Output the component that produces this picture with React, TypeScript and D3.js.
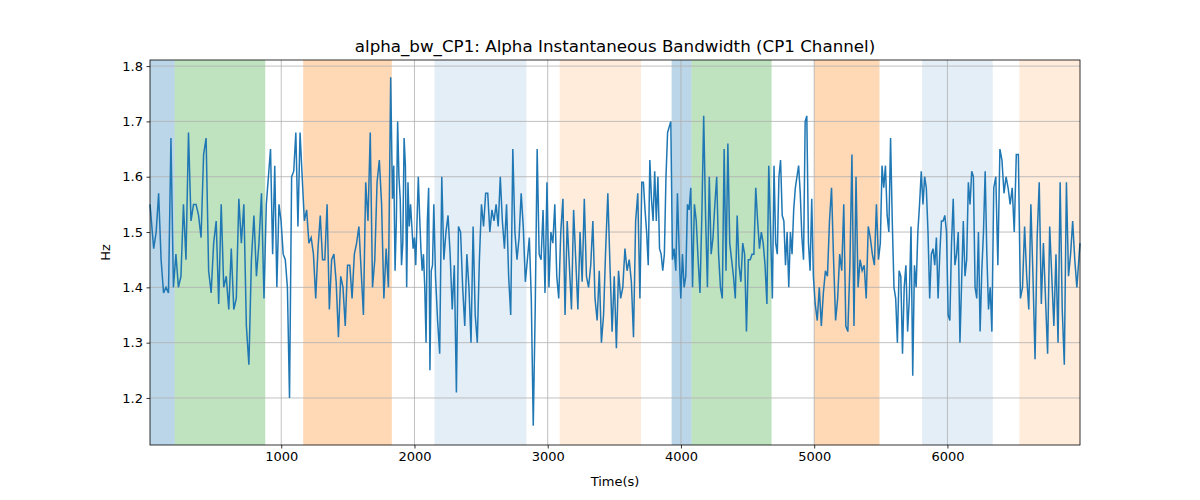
import React, { useEffect, useRef } from 'react';
import * as d3 from 'd3';

// segment boundaries (time, s) along which samples are laid out
const segmentBounds = [15, 200, 880, 1165, 1830, 2150, 2840, 3090, 3700, 3930, 4080, 4680, 5000, 5490, 5810, 6340, 6540, 6995];

const segmentValues: number[][] = [
  [1.55, 1.47, 1.50, 1.57, 1.45, 1.39, 1.40, 1.39, 1.67, 1.40],
  [1.46, 1.40, 1.42, 1.55, 1.45, 1.68, 1.52, 1.55, 1.55, 1.53, 1.49, 1.64, 1.67, 1.43, 1.39, 1.48, 1.52, 1.37, 1.55, 1.40, 1.42, 1.36, 1.47, 1.36, 1.38, 1.56, 1.48, 1.55, 1.33, 1.26, 1.45, 1.53, 1.42, 1.48, 1.57, 1.38],
  [1.55, 1.60, 1.65, 1.46, 1.62, 1.40, 1.55, 1.52, 1.46, 1.45, 1.40, 1.20, 1.60, 1.61, 1.68, 1.51, 1.68, 1.60],
  [1.52, 1.54, 1.48, 1.49, 1.46, 1.38, 1.47, 1.53, 1.45, 1.45, 1.55, 1.36, 1.45, 1.46, 1.41, 1.31, 1.42, 1.40, 1.33, 1.44, 1.44, 1.38, 1.46, 1.48, 1.51, 1.43, 1.35, 1.59, 1.52, 1.68, 1.40, 1.45, 1.59, 1.63, 1.55, 1.38, 1.47, 1.40, 1.78],
  [1.56, 1.62, 1.43, 1.52, 1.70, 1.60, 1.56, 1.44, 1.48, 1.67, 1.62, 1.40, 1.59, 1.51, 1.55, 1.51, 1.47, 1.49, 1.44, 1.52, 1.60, 1.53, 1.47, 1.43, 1.46, 1.40, 1.30, 1.52, 1.58, 1.25, 1.43, 1.44, 1.55],
  [1.42, 1.34, 1.28, 1.60, 1.45, 1.50, 1.53, 1.46, 1.36, 1.44, 1.21, 1.51, 1.50, 1.40, 1.33, 1.46, 1.40, 1.30, 1.51, 1.35, 1.30, 1.45, 1.55, 1.51, 1.57, 1.57, 1.50, 1.54, 1.52, 1.55, 1.51, 1.60, 1.52, 1.47, 1.55, 1.42, 1.35, 1.65, 1.50, 1.45, 1.49, 1.57, 1.51, 1.41],
  [1.45, 1.49, 1.38, 1.15, 1.36, 1.65, 1.46, 1.45, 1.54, 1.39, 1.59, 1.40, 1.50, 1.48, 1.55, 1.42, 1.38],
  [1.50, 1.56, 1.35, 1.52, 1.44, 1.36, 1.54, 1.45, 1.36, 1.50, 1.41, 1.56, 1.42, 1.40, 1.44, 1.52, 1.38, 1.34, 1.43, 1.30, 1.35, 1.47, 1.57, 1.44, 1.32, 1.42, 1.29, 1.43, 1.38, 1.40, 1.47, 1.43, 1.45, 1.41, 1.31, 1.52, 1.57, 1.38],
  [1.59, 1.59, 1.54, 1.50, 1.44, 1.63, 1.56, 1.52, 1.61, 1.52, 1.60, 1.47, 1.46, 1.43, 1.46, 1.60, 1.68, 1.69, 1.70],
  [1.45, 1.47, 1.43, 1.57, 1.47, 1.38, 1.46, 1.40, 1.42, 1.55, 1.54, 1.58],
  [1.40, 1.55, 1.52, 1.45, 1.39, 1.53, 1.71, 1.53, 1.40, 1.60, 1.46, 1.49, 1.55, 1.60, 1.46, 1.40, 1.38, 1.65, 1.43, 1.66, 1.48, 1.45, 1.42, 1.38, 1.53, 1.44, 1.41, 1.48, 1.46, 1.32, 1.45, 1.45, 1.46, 1.46, 1.58, 1.52, 1.47, 1.50, 1.48, 1.44, 1.37, 1.62, 1.50],
  [1.38, 1.62, 1.48, 1.46, 1.60, 1.63, 1.53, 1.52, 1.44, 1.50, 1.40, 1.50, 1.46, 1.54, 1.58, 1.60, 1.62, 1.57, 1.49, 1.45, 1.70, 1.71, 1.48, 1.43, 1.56, 1.42],
  [1.37, 1.34, 1.40, 1.33, 1.39, 1.43, 1.42, 1.52, 1.58, 1.45, 1.34, 1.38, 1.46, 1.43, 1.55, 1.33, 1.32, 1.44, 1.64, 1.33, 1.60, 1.40, 1.45, 1.43, 1.44, 1.38, 1.51, 1.49, 1.46, 1.44, 1.55, 1.45],
  [1.48, 1.62, 1.58, 1.62, 1.53, 1.50, 1.67, 1.52, 1.40, 1.38, 1.30, 1.43, 1.42, 1.28, 1.40, 1.44, 1.32, 1.38, 1.51, 1.24, 1.44, 1.40, 1.50, 1.55, 1.61],
  [1.55, 1.60, 1.58, 1.50, 1.38, 1.46, 1.47, 1.44, 1.49, 1.38, 1.46, 1.52, 1.52, 1.53, 1.50, 1.35, 1.34, 1.48, 1.56, 1.44, 1.46, 1.50, 1.30, 1.41, 1.52, 1.42, 1.45, 1.59, 1.55, 1.61, 1.60, 1.40, 1.38, 1.50, 1.32, 1.43, 1.50, 1.61, 1.46, 1.36, 1.40, 1.32],
  [1.58, 1.60, 1.44, 1.65, 1.63, 1.57, 1.60, 1.58, 1.55, 1.58, 1.50, 1.64, 1.64],
  [1.38, 1.40, 1.51, 1.42, 1.36, 1.55, 1.42, 1.27, 1.49, 1.59, 1.37, 1.48, 1.38, 1.28, 1.51, 1.42, 1.33, 1.46, 1.30, 1.59, 1.36, 1.26, 1.59, 1.42, 1.46, 1.52, 1.45, 1.40, 1.48],
];

// shaded spans: [start, end, color, opacity]
const spans: [number, number, string, number][] = [
  [15, 200, '#1f77b4', 0.3],
  [200, 880, '#2ca02c', 0.3],
  [1165, 1830, '#ff7f0e', 0.3],
  [2150, 2840, '#1f77b4', 0.12],
  [3090, 3700, '#ff7f0e', 0.15],
  [3930, 4080, '#1f77b4', 0.3],
  [4080, 4680, '#2ca02c', 0.3],
  [5000, 5490, '#ff7f0e', 0.3],
  [5810, 6340, '#1f77b4', 0.12],
  [6540, 6995, '#ff7f0e', 0.15],
];

const xTicks = [1000, 2000, 3000, 4000, 5000, 6000];
const yTicks = [1.2, 1.3, 1.4, 1.5, 1.6, 1.7, 1.8];

export default function App() {
  const ref = useRef<SVGSVGElement>(null);

  useEffect(() => {
    if (!ref.current) return;
    const svg = d3.select(ref.current);
    svg.selectAll('*').remove();
    const width = 1200, height = 500;
    const m = { top: 60, right: 120, bottom: 55, left: 150 };

    const data: { t: number; v: number }[] = [];
    segmentValues.forEach((vals, i) => {
      const a = segmentBounds[i], b = segmentBounds[i + 1];
      vals.forEach((v, j) => {
        data.push({ t: a + ((b - a) * (j + 0.5)) / vals.length, v });
      });
    });
    data[0].t = 15;
    data[data.length - 1].t = 6995;

    const x = d3.scaleLinear().domain([15, 6995]).range([m.left, width - m.right]);
    const y = d3.scaleLinear().domain([1.115, 1.811]).range([height - m.bottom, m.top]);
    const font = 'DejaVu Sans, sans-serif';

    svg.selectAll('rect.span').data(spans).enter().append('rect')
      .attr('x', d => x(d[0])).attr('width', d => x(d[1]) - x(d[0]))
      .attr('y', m.top).attr('height', height - m.bottom - m.top)
      .attr('fill', d => d[2]).attr('fill-opacity', d => d[3]);

    const grid = svg.append('g');
    xTicks.forEach(t => grid.append('line').attr('x1', x(t)).attr('x2', x(t))
      .attr('y1', m.top).attr('y2', height - m.bottom).attr('stroke', '#b0b0b0').attr('stroke-width', 0.8));
    yTicks.forEach(t => grid.append('line').attr('x1', m.left).attr('x2', width - m.right)
      .attr('y1', y(t)).attr('y2', y(t)).attr('stroke', '#b0b0b0').attr('stroke-width', 0.8));

    svg.append('path').datum(data)
      .attr('fill', 'none').attr('stroke', '#1f77b4').attr('stroke-width', 1.5)
      .attr('d', d3.line<{ t: number; v: number }>().x(d => x(d.t)).y(d => y(d.v)));

    svg.append('rect').attr('x', m.left).attr('y', m.top)
      .attr('width', width - m.right - m.left).attr('height', height - m.bottom - m.top)
      .attr('fill', 'none').attr('stroke', '#000').attr('stroke-width', 0.8);

    const xa = svg.append('g').attr('transform', `translate(0,${height - m.bottom})`)
      .call(d3.axisBottom(x).tickValues(xTicks).tickFormat(d3.format('d')).tickSize(3.5).tickPadding(3.5));
    xa.select('.domain').remove();
    const ya = svg.append('g').attr('transform', `translate(${m.left},0)`)
      .call(d3.axisLeft(y).tickValues(yTicks).tickFormat(d3.format('.1f')).tickSize(3.5).tickPadding(3.5));
    ya.select('.domain').remove();
    svg.selectAll('.tick text').attr('font-family', font).attr('font-size', 13).attr('fill', '#000');
    svg.selectAll('.tick line').attr('stroke', '#000').attr('stroke-width', 0.8);

    svg.append('text').attr('x', (m.left + width - m.right) / 2).attr('y', 52)
      .attr('text-anchor', 'middle').attr('font-family', font).attr('font-size', 16.7)
      .text('alpha_bw_CP1: Alpha Instantaneous Bandwidth (CP1 Channel)');
    svg.append('text').attr('x', (m.left + width - m.right) / 2).attr('y', 486)
      .attr('text-anchor', 'middle').attr('font-family', font).attr('font-size', 13).text('Time(s)');
    svg.append('text').attr('transform', `translate(110,${(m.top + height - m.bottom) / 2}) rotate(-90)`)
      .attr('text-anchor', 'middle').attr('font-family', font).attr('font-size', 13).text('Hz');
  }, []);

  return <svg ref={ref} width={1200} height={500} style={{ position: 'absolute', left: 0, top: 0 }} />;
}
